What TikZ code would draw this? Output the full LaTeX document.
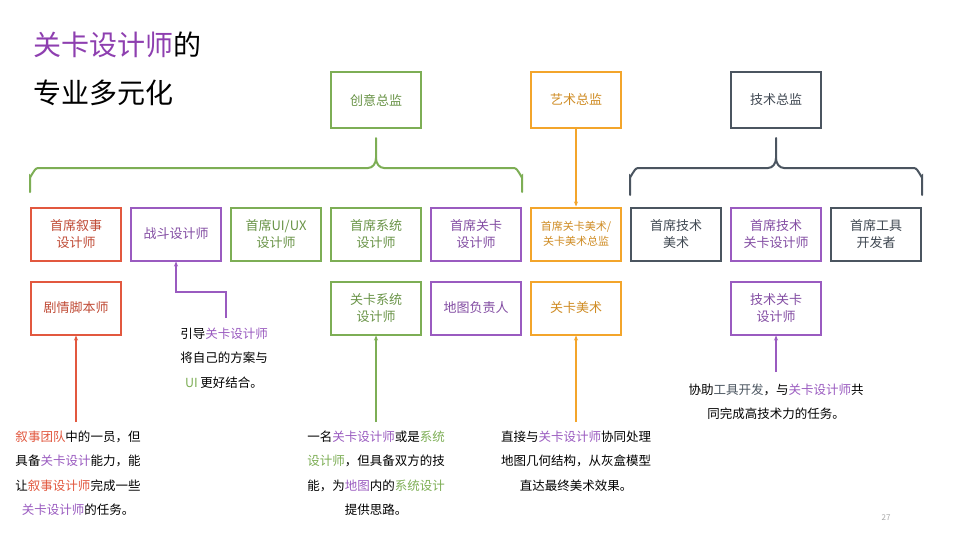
\documentclass[tikz,border=0pt]{standalone}
\usepackage{fontspec}
\setmainfont{Noto Sans CJK SC}
\usetikzlibrary{arrows.meta}
\definecolor{cr}{HTML}{E2583F}
\definecolor{cp}{HTML}{9A5BC0}
\definecolor{cg}{HTML}{7DAE55}
\definecolor{co}{HTML}{F3A52B}
\definecolor{cy}{HTML}{4B5560}
\definecolor{tp}{HTML}{8E3FB0}
\newcommand{\tr}[1]{\textcolor{cr}{#1}}
\newcommand{\tpu}[1]{\textcolor{cp}{#1}}
\newcommand{\tg}[1]{\textcolor{cg}{#1}}
\begin{document}
\begin{tikzpicture}[x=1pt,y=-1pt,
  bx/.style={draw=#1,line width=2pt,minimum width=90pt,minimum height=53pt,align=center,font=\fontsize{13}{17}\selectfont,text=#1!85!black,inner sep=1pt},
  con/.style={draw=#1,line width=1.5pt,-{Stealth[length=5pt,width=4pt]}},
  br/.style={draw=#1,line width=2pt,line cap=round},
  ann/.style={align=center,font=\fontsize{12.5}{24.5}\selectfont,anchor=north}]
\fill[white] (0,0) rectangle (960,539);
\node[anchor=west,font=\fontsize{28}{30}\selectfont] (t1) at (30,45) {\textcolor{tp}{关卡设计师}的};
\node[anchor=west,font=\fontsize{28}{30}\selectfont] (t2) at (30,93) {专业多元化};
% top
\node[bx=cg,minimum height=56pt] (cd) at (376,100) {创意总监};
\node[bx=co,minimum height=56pt] (ad) at (576,100) {艺术总监};
\node[bx=cy,minimum height=56pt] (td) at (776,100) {技术总监};
% row1
\node[bx=cr] (n1) at (76,234) {首席叙事\\设计师};
\node[bx=cp] (n2) at (176,234) {战斗设计师};
\node[bx=cg] (n3) at (276,234) {首席UI/UX\\设计师};
\node[bx=cg] (n4) at (376,234) {首席系统\\设计师};
\node[bx=cp] (n5) at (476,234) {首席关卡\\设计师};
\node[bx=co,font=\fontsize{11}{15}\selectfont] (n6) at (576,234) {首席关卡美术/\\关卡美术总监};
\node[bx=cy] (n7) at (676,234) {首席技术\\美术};
\node[bx=cp] (n8) at (776,234) {首席技术\\关卡设计师};
\node[bx=cy] (n9) at (876,234) {首席工具\\开发者};
% row2
\node[bx=cr] (m1) at (76,308) {剧情脚本师};
\node[bx=cg] (m4) at (376,308) {关卡系统\\设计师};
\node[bx=cp] (m5) at (476,308) {地图负责人};
\node[bx=co] (m6) at (576,308) {关卡美术};
\node[bx=cp] (m8) at (776,308) {技术关卡\\设计师};
% braces
\draw[br=cg] (30,192) -- (30,176) to[out=-90,in=180] (38,168) -- (368,168) to[out=0,in=-90] (376,158) -- (376,138);
\draw[br=cg] (376,158) to[out=-90,in=180] (384,168) -- (514,168) to[out=0,in=-90] (522,176) -- (522,192);
\draw[br=cy] (630,195) -- (630,176) to[out=-90,in=180] (638,168) -- (768,168) to[out=0,in=-90] (776,158) -- (776,138);
\draw[br=cy] (776,158) to[out=-90,in=180] (784,168) -- (914,168) to[out=0,in=-90] (922,176) -- (922,195);
% art
\draw[con=co] (ad) -- (n6);
% annotations
\coordinate (a1) at (76,422);
\coordinate (a2) at (226,318);
\coordinate (a4) at (376,422);
\coordinate (a6) at (576,422);
\coordinate (a8) at (776,372);
\draw[con=cr] (a1) -- (m1);
\draw[con=cp] (a2) -- (226,292) -- (176,292) -- (n2);
\draw[con=cg] (a4) -- (m4);
\draw[con=co] (a6) -- (m6);
\draw[con=cp] (a8) -- (m8);
\node[ann] (x1) at (78,427) {\tr{叙事团队}中的一员，但\\具备\tpu{关卡设计}能力，能\\让\tr{叙事设计师}完成一些\\\tpu{关卡设计师}的任务。};
\node[ann] (x2) at (224,324) {引导\tpu{关卡设计师}\\将自己的方案与\\\tg{UI} 更好结合。};
\node[ann] (x4) at (376,427) {一名\tpu{关卡设计师}或是\tg{系统}\\\tg{设计师}，但具备双方的技\\能，为\tpu{地图}内的\tg{系统设计}\\提供思路。};
\node[ann] (x6) at (576,427) {直接与\tpu{关卡设计师}协同处理\\地图几何结构，从灰盒模型\\直达最终美术效果。};
\node[ann] (x8) at (776,380) {协助\textcolor{cy}{工具开发}，与\tpu{关卡设计师}共\\同完成高技术力的任务。};
\node[font=\fontsize{8}{10}\selectfont,text=gray!70] (pg) at (886,518) {27};
\end{tikzpicture}
\end{document}
